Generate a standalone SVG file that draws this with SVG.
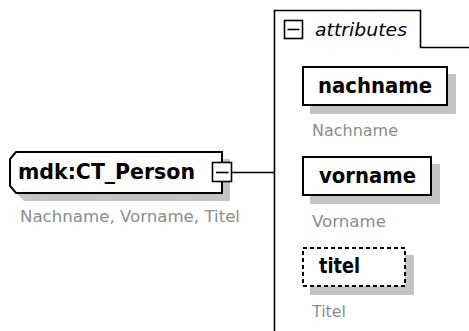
<svg xmlns="http://www.w3.org/2000/svg" width="469" height="331" viewBox="0 0 469 331">
<style>
.shadow{fill:#c4c4c4;stroke:none}
.box{fill:#fff;stroke:#000;stroke-width:2}
.dashed{stroke-dasharray:4 3}
.line{fill:none;stroke:#000;stroke-width:1.6}
.name{font-family:"DejaVu Sans",Verdana,sans-serif;font-weight:bold;font-size:20.5px;fill:#000}
.doc{font-family:"DejaVu Sans",Verdana,sans-serif;font-size:16.5px;fill:#8c8c8c}
.comp{font-family:"DejaVu Sans",Verdana,sans-serif;font-style:italic;font-size:17.5px;fill:#000}
</style>
<g id="connectors">
<line class="line" x1="232" y1="172.5" x2="274" y2="172.5"/>
</g>
<g id="attributes">
<path class="line" d="M274.5,331 V10.5 H420.5 V47.5 H469"/>
<rect x="284.5" y="20.5" width="18" height="18" fill="#fff" stroke="#000" stroke-width="1.6"/>
<line x1="287.5" y1="29.5" x2="299.5" y2="29.5" stroke="#000" stroke-width="1.6"/>
<text class="comp" x="315" y="36" textLength="92" lengthAdjust="spacingAndGlyphs">attributes</text>
</g>
<g id="ct_person">
<path class="shadow" d="M24,159 H230 V201 H24 L17,194 V167 Z"/>
<path class="box" d="M16,152 H222 V193 H16 L10,186 V159 Z"/>
<text class="name" x="18" y="178.5" textLength="177" lengthAdjust="spacingAndGlyphs">mdk:CT_Person</text>
<rect x="212.5" y="162.5" width="19" height="19" fill="#fff" stroke="#000" stroke-width="1.6"/>
<line x1="216" y1="172.5" x2="228.5" y2="172.5" stroke="#000" stroke-width="1.6"/>
<text class="doc" x="20" y="222" textLength="220" lengthAdjust="spacingAndGlyphs">Nachname, Vorname, Titel</text>
</g>
<g id="nachname">
<rect class="shadow" x="310" y="74" width="146" height="40"/>
<rect class="box" x="303" y="67" width="144" height="38"/>
<text class="name" x="318" y="93" textLength="114" lengthAdjust="spacingAndGlyphs">nachname</text>
<text class="doc" x="312" y="136" textLength="86" lengthAdjust="spacingAndGlyphs">Nachname</text>
</g>
<g id="vorname">
<rect class="shadow" x="310" y="164" width="130" height="40"/>
<rect class="box" x="303" y="157" width="128" height="38"/>
<text class="name" x="319" y="183" textLength="97" lengthAdjust="spacingAndGlyphs">vorname</text>
<text class="doc" x="312" y="227" textLength="74" lengthAdjust="spacingAndGlyphs">Vorname</text>
</g>
<g id="titel">
<rect class="shadow" x="310" y="255" width="104" height="40"/>
<rect class="box dashed" x="303" y="248" width="102" height="38"/>
<text class="name" x="319" y="273" textLength="41" lengthAdjust="spacingAndGlyphs">titel</text>
<text class="doc" x="312" y="317" textLength="34" lengthAdjust="spacingAndGlyphs">Titel</text>
</g>
</svg>
